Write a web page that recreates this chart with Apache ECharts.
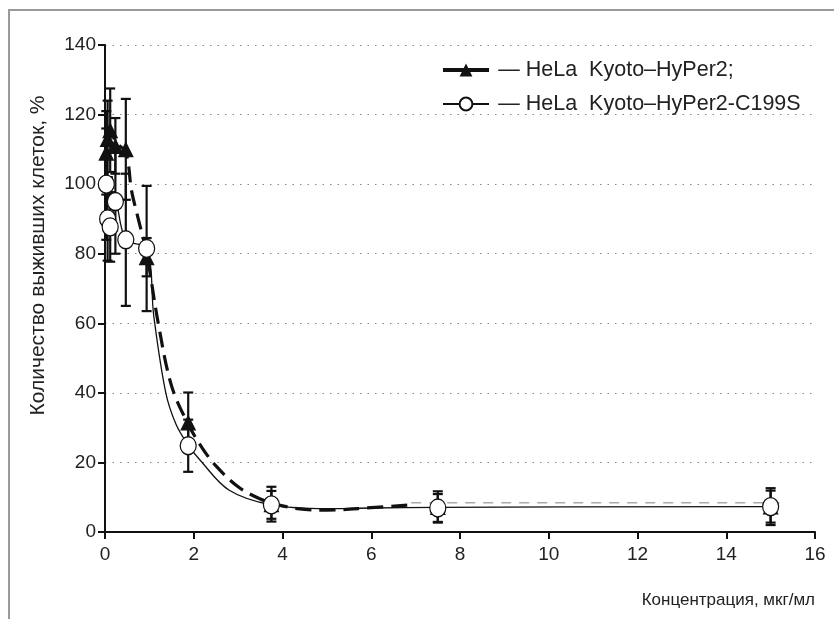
<!DOCTYPE html>
<html>
<head>
<meta charset="utf-8">
<script src="https://cdn.jsdelivr.net/npm/echarts@6/dist/echarts.min.js"></script>
<style>
  html, body { margin: 0; padding: 0; background: #fff; }
  #frame { position: absolute; left: 8px; top: 9px; width: 840px; height: 620px;
           border-top: 2px solid #9a9a9a; border-left: 2px solid #9a9a9a; }
  #chart { position: absolute; left: 0; top: 0; width: 834px; height: 619px; }
</style>
</head>
<body>
<div id="frame"></div>
<div id="chart"></div>
<script>
// ── Data ─────────────────────────────────────────────────────────────────────
var conc = [0.029, 0.059, 0.117, 0.234, 0.469, 0.938, 1.875, 3.75, 7.5, 15];

// HeLa Kyoto-HyPer2 (filled triangles)
var hyperY   = [109, 113, 115.5, 111, 110, 79, 31.5, 8, 7.2, 7.3];
var hyperErr = [12, 11, 12, 8, 14.5, 5.5, 8.6, 5, 4.5, 5.3];

// HeLa Kyoto-HyPer2-C199S (open circles)
var mutY   = [100, 90, 87.7, 95, 84, 81.5, 24.8, 7.8, 6.9, 7.3];
var mutErr = [16, 12, 10, 15, 19, 18, 7.5, 4, 4, 4.6];

// fitted curves
var fitHyperX = [0.06, 0.12, 0.25, 0.47, 0.6, 0.75, 0.94, 1.2, 1.5, 1.875, 2.2, 2.5, 3.0, 3.5, 4.0, 4.5, 5.0, 6.0, 6.9];
var fitHyperY = [113, 115, 112, 109, 98, 90, 80, 60, 42, 31, 24, 19, 13, 9.5, 7.5, 6.5, 6.3, 7, 7.8];
var tailX = [6.9, 15.2];
var tailY = [8.4, 8.4];
var fitMutX = [0.029, 0.059, 0.117, 0.234, 0.469, 0.938, 1.1, 1.37, 1.6, 1.875, 2.14, 2.8, 3.75, 5, 6, 7.5, 15];
var fitMutY = [100, 90, 87.7, 95, 84, 81.5, 62, 40, 31, 25, 20.7, 12, 7.8, 6.7, 6.9, 7.1, 7.3];

var xTicks = [0, 2, 4, 6, 8, 10, 12, 14, 16];
var yTicks = [0, 20, 40, 60, 80, 100, 120, 140];

var nameHyper = 'HeLa  Kyoto\u2013HyPer2;';
var nameMut   = 'HeLa  Kyoto\u2013HyPer2-C199S';

// ── Helpers ──────────────────────────────────────────────────────────────────
function zip(xs, ys, es) {
  return xs.map(function(x, i) { return es ? [x, ys[i], es[i]] : [x, ys[i]]; });
}

function errorBar(params, api) {
  var x = api.value(0), y = api.value(1), e = api.value(2);
  var top = api.coord([x, y + e]);
  var bot = api.coord([x, y - e]);
  var hw = 5;
  var st = { stroke: '#111', lineWidth: 2.2 };
  return {
    type: 'group',
    children: [
      { type: 'line', shape: { x1: top[0], y1: top[1], x2: bot[0], y2: bot[1] }, style: st },
      { type: 'line', shape: { x1: top[0] - hw, y1: top[1], x2: top[0] + hw, y2: top[1] }, style: st },
      { type: 'line', shape: { x1: bot[0] - hw, y1: bot[1], x2: bot[0] + hw, y2: bot[1] }, style: st }
    ]
  };
}

var FONT = "'Liberation Sans', Arial, sans-serif";

var chart = echarts.init(document.getElementById('chart'), null, { renderer: 'canvas' });

chart.setOption({
  backgroundColor: 'transparent',
  animation: false,
  textStyle: { fontFamily: FONT, color: '#222' },
  grid: { left: 105, right: 19, top: 45, bottom: 87, containLabel: false },
  legend: {
    orient: 'vertical',
    left: 436,
    top: 54,
    itemWidth: 46,
    itemHeight: 16,
    itemGap: 12,
    selectedMode: false,
    formatter: '\u2009\u2014 {name}',
    textStyle: { fontFamily: FONT, fontSize: 21.5, color: '#222' },
    data: [
      { name: nameHyper, lineStyle: { type: 'solid', width: 4 } },
      { name: nameMut }
    ]
  },
  xAxis: {
    type: 'value',
    min: xTicks[0],
    max: xTicks[xTicks.length - 1],
    interval: 2,
    name: 'Концентрация, мкг/мл',
    nameLocation: 'end',
    nameGap: 0,
    nameTextStyle: { fontFamily: FONT, fontSize: 17, color: '#222',
                     align: 'right', verticalAlign: 'top', padding: [60, 0, 0, 0] },
    axisLine: { onZero: false, lineStyle: { color: '#111', width: 2 } },
    axisTick: { show: true, inside: false, length: 7, lineStyle: { color: '#111', width: 2 } },
    axisLabel: { fontFamily: FONT, fontSize: 19, color: '#222', margin: 13 },
    splitLine: { show: false }
  },
  yAxis: {
    type: 'value',
    min: yTicks[0],
    max: yTicks[yTicks.length - 1],
    interval: 20,
    name: 'Количество выживших клеток, %',
    nameLocation: 'middle',
    nameGap: 56,
    nameRotate: 90,
    nameTextStyle: { fontFamily: FONT, fontSize: 21, color: '#222', padding: [0, 0, 0, 66] },
    axisLine: { show: true, lineStyle: { color: '#111', width: 2 } },
    axisTick: { show: true, inside: false, length: 7, lineStyle: { color: '#111', width: 2 } },
    axisLabel: { fontFamily: FONT, fontSize: 19, color: '#222', margin: 9 },
    splitLine: { show: true, lineStyle: { color: '#888', width: 1.2, type: [1.5, 6] } }
  },
  series: [
    {
      name: 'errHyper', type: 'custom', renderItem: errorBar, z: 2,
      data: zip(conc, hyperY, hyperErr)
    },
    {
      name: 'errMut', type: 'custom', renderItem: errorBar, z: 2,
      data: zip(conc, mutY, mutErr)
    },
    {
      name: 'tail', type: 'line', z: 3, symbol: 'none', silent: true,
      lineStyle: { color: '#aaa', width: 1.5, type: [10, 8] },
      data: zip(tailX, tailY)
    },
    {
      name: nameHyper, type: 'line', z: 4, smooth: 0.35,
      symbol: 'triangle', symbolSize: 16, showSymbol: false,
      itemStyle: { color: '#111' },
      lineStyle: { color: '#111', width: 3.2, type: [16, 8] },
      data: zip(fitHyperX, fitHyperY)
    },
    {
      name: nameMut, type: 'line', z: 4, smooth: 0.35,
      symbol: 'circle', symbolSize: [16, 18], showSymbol: false,
      itemStyle: { color: '#fff', borderColor: '#111', borderWidth: 1.3 },
      lineStyle: { color: '#111', width: 1.3 },
      data: zip(fitMutX, fitMutY)
    },
    {
      name: 'ptsHyper', type: 'scatter', z: 5,
      symbol: 'triangle', symbolSize: 16,
      itemStyle: { color: '#111', opacity: 1 },
      data: zip(conc, hyperY)
    },
    {
      name: 'ptsMut', type: 'scatter', z: 6,
      symbol: 'circle', symbolSize: [16, 18],
      itemStyle: { color: '#fff', borderColor: '#111', borderWidth: 1.3, opacity: 1 },
      data: zip(conc, mutY)
    }
  ]
});
</script>
</body>
</html>
